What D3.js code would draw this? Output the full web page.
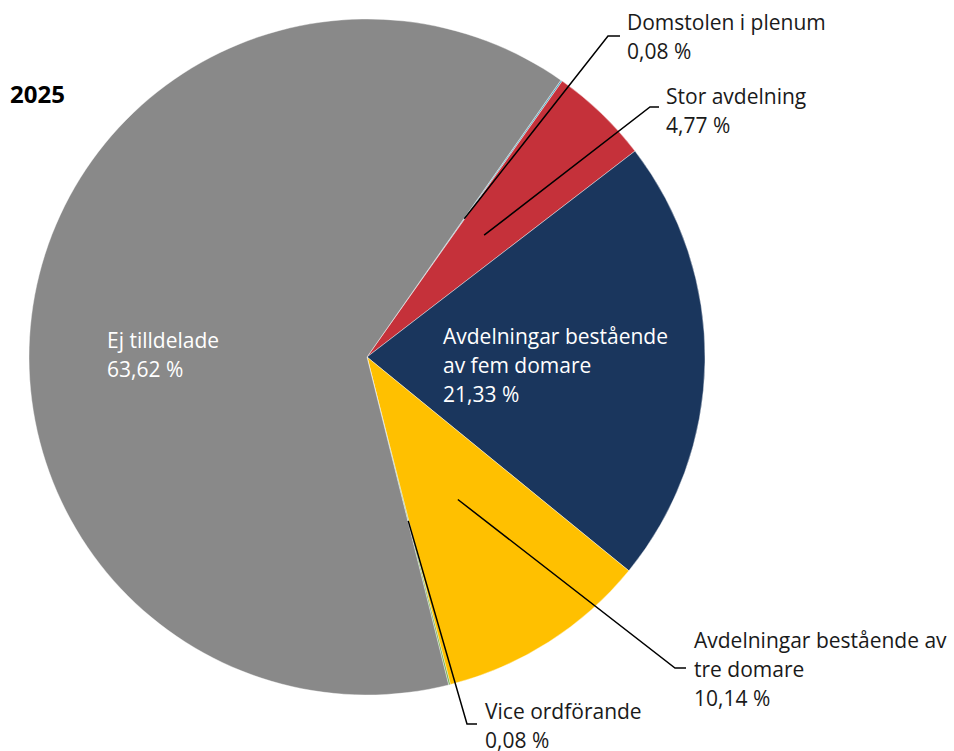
<!DOCTYPE html>
<html>
<head>
<meta charset="utf-8">
<script src="https://cdn.jsdelivr.net/npm/d3@7"></script>
<style>
  body { margin: 0; background: #fff; }
  text { font-family: "Open Sans", sans-serif; }
</style>
</head>
<body>
<div id="app"></div>
<script>
const categories = [
  "Domstolen i plenum",
  "Stor avdelning",
  "Avdelningar bestående av fem domare",
  "Avdelningar bestående av tre domare",
  "Vice ordförande",
  "Ej tilldelade"
];
const values = [0.08, 4.77, 21.33, 10.14, 0.08, 63.62];
const colors = ["#4bacc6", "#c5313a", "#1a365d", "#ffc000", "#70ad47", "#898989"];
const title = "2025";

// label layout (text lines, anchor position, leader bend)
const labelLayout = [
  { lines: ["Domstolen i plenum"], x: 627, y: 22, bend: [608, 36], end: [620, 36], color: "#1a1a1a" },
  { lines: ["Stor avdelning"], x: 666, y: 96, bend: [650, 107], end: [659, 107], color: "#1a1a1a" },
  { lines: ["Avdelningar bestående", "av fem domare"], x: 443, y: 336, color: "#fff" },
  { lines: ["Avdelningar bestående av", "tre domare"], x: 694, y: 640, bend: [675, 668], end: [686, 668], color: "#1a1a1a" },
  { lines: ["Vice ordförande"], x: 485, y: 711, bend: [467, 724], end: [477, 724], color: "#1a1a1a" },
  { lines: ["Ej tilldelade"], x: 107, y: 340, color: "#fff" }
];

const width = 954, height = 751;
const cx = 367, cy = 357, R = 338;
const lineH = 29;

const fmt = v => d3.format(".2f")(v).replace(".", ",") + " %";

const svg = d3.select("#app").append("svg")
  .attr("width", width)
  .attr("height", height);

const pie = d3.pie()
  .sort(null)
  .value(d => d)
  .startAngle(35 * Math.PI / 180)
  .endAngle(35 * Math.PI / 180 + 2 * Math.PI);

const arcs = pie(values);
const arc = d3.arc().innerRadius(0).outerRadius(R);

const g = svg.append("g").attr("transform", `translate(${cx},${cy})`);

g.selectAll("path")
  .data(arcs)
  .join("path")
  .attr("d", arc)
  .attr("fill", (d, i) => colors[i])
  .attr("stroke", "#fff")
  .attr("stroke-width", 0.4);

// leader lines
arcs.forEach((d, i) => {
  const L = labelLayout[i];
  if (!L.bend) return;
  const c = arc.centroid(d);
  const pts = [[cx + c[0], cy + c[1]], L.bend, L.end];
  svg.append("path")
    .attr("d", d3.line()(pts))
    .attr("fill", "none")
    .attr("stroke", "#000")
    .attr("stroke-width", 1.5);
});

// labels
labelLayout.forEach((L, i) => {
  const t = svg.append("text")
    .attr("x", L.x)
    .attr("y", L.y)
    .attr("fill", L.color)
    .attr("font-size", 21)
    .attr("dominant-baseline", "central");
  L.lines.concat([fmt(values[i])]).forEach((s, k) => {
    t.append("tspan")
      .attr("x", L.x)
      .attr("y", L.y + k * lineH)
      .text(s);
  });
});

svg.append("text")
  .attr("x", 10)
  .attr("y", 93)
  .attr("dominant-baseline", "central")
  .attr("font-size", 24)
  .attr("font-weight", "bold")
  .attr("fill", "#000")
  .text(title);
</script>
</body>
</html>
